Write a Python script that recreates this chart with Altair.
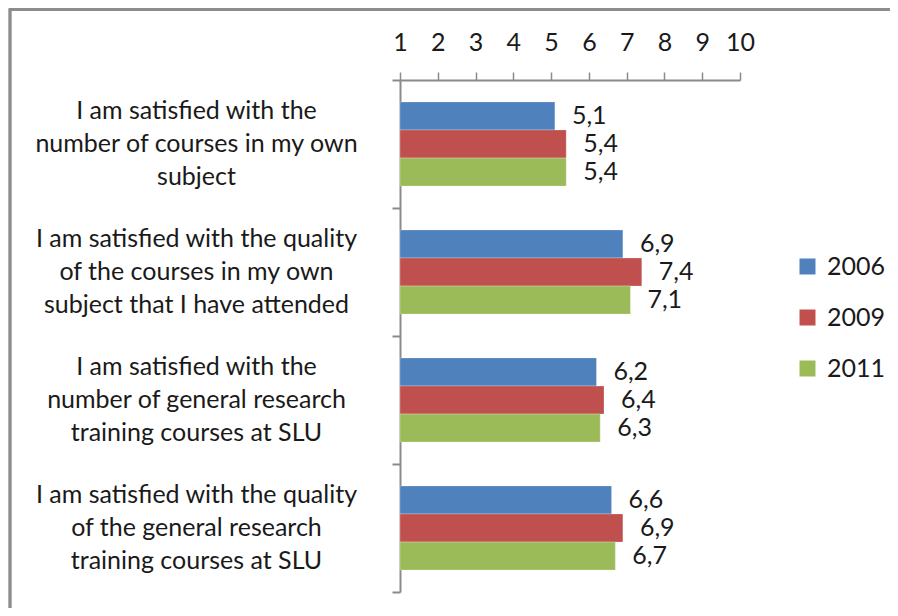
import altair as alt
import pandas as pd

categories = [
    "I am satisfied with the\nnumber of courses in my own\nsubject",
    "I am satisfied with the quality\nof the courses in my own\nsubject that I have attended",
    "I am satisfied with the\nnumber of general research\ntraining courses at SLU",
    "I am satisfied with the quality\nof the general research\ntraining courses at SLU",
]
years = ["2006", "2009", "2011"]
values_2006 = [5.1, 6.9, 6.2, 6.6]
values_2009 = [5.4, 7.4, 6.4, 6.9]
values_2011 = [5.4, 7.1, 6.3, 6.7]
colors = ["#4F81BD", "#C0504D", "#9BBB59"]
x_ticks = list(range(1, 11))

rows = []
for yr, vals in zip(years, [values_2006, values_2009, values_2011]):
    for c, v in zip(categories, vals):
        rows.append({"cat": c, "year": yr, "value": v, "base": 1,
                     "label": f"{v:.1f}".replace(".", ",")})
df = pd.DataFrame(rows)
cat_df = pd.DataFrame({"cat": categories})

FONT = "Lato"
FS = 25
TXT = "#1a1a1a"
AX = "#8a8a8a"
W, H = 340, 512

yscale = alt.Scale(domain=categories, paddingInner=0, paddingOuter=0)
yoff_scale = alt.Scale(domain=years, paddingInner=0, paddingOuter=0.78)
xscale = alt.Scale(domain=[1, 10], zero=False, nice=False)

y_axis = alt.Axis(labels=False, title=None, tickBand="extent", tickSize=8,
                  domainColor=AX, tickColor=AX, domainWidth=2, tickWidth=2)
x_axis = alt.Axis(orient="top", values=x_ticks, title=None, grid=False,
                  labelOverlap=False, labelFlush=False, tickSize=8, labelPadding=17,
                  labelFontSize=FS, labelFont=FONT, labelColor=TXT,
                  domainColor=AX, tickColor=AX, domainWidth=2, tickWidth=1.5)

y_enc = alt.Y("cat:N", sort=categories, scale=yscale, axis=y_axis)
x_enc = alt.X("value:Q", scale=xscale, axis=x_axis)
yoff_enc = alt.YOffset("year:N", sort=years, scale=yoff_scale)

frame_left = alt.Chart(cat_df).mark_rule(stroke="#8c8c8c", strokeWidth=2.5).encode(
    x=alt.value(-390), y=alt.value(-71.5), y2=alt.value(560)
)
frame_top = alt.Chart(cat_df).mark_rule(stroke="#8c8c8c", strokeWidth=2.5).encode(
    x=alt.value(-391), x2=alt.value(500), y=alt.value(-70.5)
)

bars = alt.Chart(df).mark_bar(stroke="white", strokeWidth=0.5, strokeOpacity=0.5).encode(
    y=y_enc,
    yOffset=yoff_enc,
    x=x_enc,
    x2="base:Q",
    color=alt.Color("year:N", sort=years, scale=alt.Scale(domain=years, range=colors),
                    legend=alt.Legend(title=None, orient="none", legendX=395, legendY=174,
                                      symbolType="square", symbolSize=256, symbolStrokeWidth=0,
                                      labelFontSize=FS, labelFont=FONT, labelColor=TXT,
                                      rowPadding=25, labelOffset=7)),
)

vlabels = alt.Chart(df).mark_text(align="left", baseline="middle", dx=17, fontSize=FS,
                                  font=FONT, color=TXT).encode(
    y=y_enc,
    yOffset=yoff_enc,
    x=x_enc,
    text="label:N",
)

ylabels = alt.Chart(cat_df).mark_text(align="center", baseline="middle", fontSize=FS,
                                      font=FONT, color=TXT, lineBreak="\n",
                                      lineHeight=33, dy=-33).encode(
    y=y_enc,
    x=alt.value(-203.5),
    text="cat:N",
)

chart = alt.layer(frame_left, frame_top, bars, vlabels, ylabels).properties(
    width=W, height=H,
    autosize=alt.AutoSizeParams(type="none"),
    padding={"left": 392, "top": 72, "right": 150, "bottom": 16},
).configure(background="white").configure_view(stroke=None)

chart.save("out.html", embed_options={"renderer": "svg", "actions": False})
